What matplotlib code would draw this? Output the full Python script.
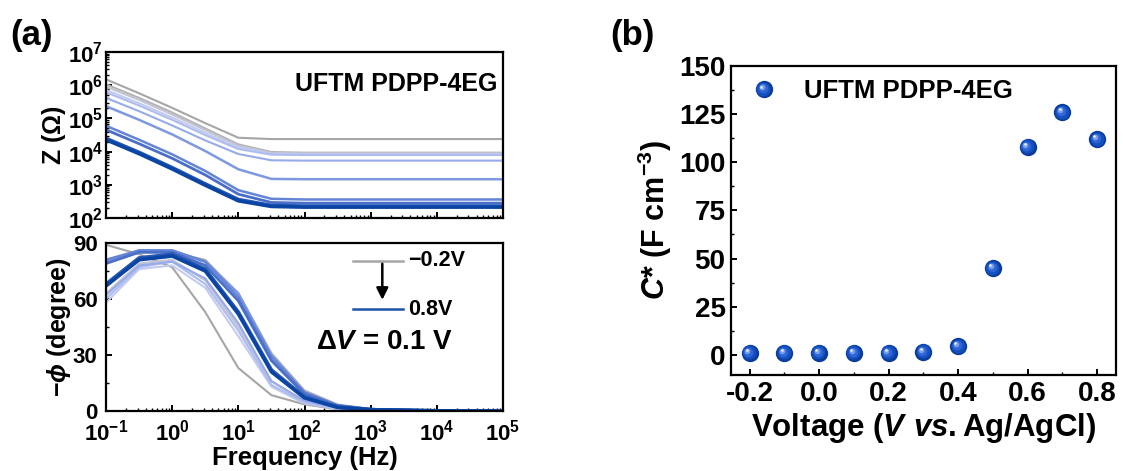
import numpy as np
import matplotlib
matplotlib.use("Agg")
import matplotlib.pyplot as plt
from matplotlib.ticker import FuncFormatter, LogLocator, MultipleLocator, NullFormatter
from matplotlib.transforms import offset_copy
from matplotlib.legend_handler import HandlerBase
from matplotlib.lines import Line2D

plt.rcParams.update({
    "font.family": ["Liberation Sans", "DejaVu Sans"],
    "font.weight": "bold",
    "axes.labelweight": "bold",
    "axes.unicode_minus": False,
    "mathtext.fontset": "custom",
    "mathtext.rm": "Liberation Sans:bold",
    "mathtext.bf": "Liberation Sans:bold",
    "mathtext.it": "Liberation Sans:italic:bold",
    "mathtext.default": "bf",
    "axes.linewidth": 1.6,
    "xtick.direction": "in",
    "ytick.direction": "in",
    "xtick.major.width": 1.4,
    "ytick.major.width": 1.4,
    "xtick.minor.width": 1.0,
    "ytick.minor.width": 1.0,
    "xtick.major.size": 4,
    "ytick.major.size": 4,
    "xtick.minor.size": 2.2,
    "ytick.minor.size": 2.2,
})

# ---- data (a): impedance / phase vs frequency, -0.2 V ... 0.8 V ----
voltages = [-0.2, -0.1, 0.0, 0.1, 0.2, 0.3, 0.4, 0.5, 0.6, 0.7, 0.8]
freq = [0.1, 0.316, 1, 3.16, 10, 31.6, 100, 316, 1e3, 1e4, 1e5]

# log10(|Z| / Ohm) at each frequency
logz_m02 = [6.18, 5.76, 5.32, 4.86, 4.42, 4.38, 4.38, 4.38, 4.38, 4.38, 4.38]
logz_m01 = [6.03, 5.62, 5.18, 4.70, 4.22, 3.99, 3.97, 3.97, 3.97, 3.97, 3.97]
logz_p00 = [5.96, 5.56, 5.12, 4.65, 4.18, 3.96, 3.95, 3.95, 3.95, 3.95, 3.95]
logz_p01 = [5.86, 5.46, 5.03, 4.57, 4.13, 3.94, 3.93, 3.93, 3.93, 3.93, 3.93]
logz_p02 = [5.79, 5.39, 4.96, 4.50, 4.08, 3.91, 3.90, 3.90, 3.90, 3.90, 3.90]
logz_p03 = [5.62, 5.22, 4.79, 4.34, 3.93, 3.74, 3.73, 3.73, 3.73, 3.73, 3.73]
logz_p04 = [5.37, 4.96, 4.52, 4.02, 3.47, 3.18, 3.17, 3.17, 3.17, 3.17, 3.17]
logz_p05 = [4.78, 4.36, 3.92, 3.42, 2.84, 2.58, 2.56, 2.56, 2.56, 2.56, 2.56]
logz_p06 = [4.66, 4.24, 3.80, 3.30, 2.72, 2.47, 2.45, 2.45, 2.45, 2.45, 2.45]
logz_p07 = [4.40, 3.98, 3.52, 3.03, 2.56, 2.38, 2.36, 2.36, 2.36, 2.36, 2.36]
logz_p08 = [4.36, 3.94, 3.48, 2.99, 2.52, 2.35, 2.33, 2.33, 2.33, 2.33, 2.33]

# -phase (degree)
ph_m02 = [89, 84, 77, 53, 23, 8.5, 3.5, 1.0, 0.3, 0, 0]
ph_m01 = [80, 85, 85, 81, 63, 31, 11, 3.5, 1.0, 0.2, 0]
ph_p00 = [63, 79, 81, 70, 45, 16, 5.0, 1.5, 0.5, 0, 0]
ph_p01 = [58, 76, 78, 66, 40, 13, 4.0, 1.2, 0.4, 0, 0]
ph_p02 = [60, 77, 80, 68, 43, 14, 4.5, 1.4, 0.4, 0, 0]
ph_p03 = [62, 78, 80, 71, 47, 16, 5.5, 1.7, 0.5, 0, 0]
ph_p04 = [80, 86, 86, 80, 63, 30, 10, 3.0, 1.0, 0.2, 0]
ph_p05 = [81, 86, 86, 80, 61, 29, 10, 3.0, 1.0, 0.2, 0]
ph_p06 = [79, 85, 85, 78, 59, 27, 9, 2.8, 0.9, 0.1, 0]
ph_p07 = [68, 82, 84, 76, 53, 22, 7.5, 2.0, 0.7, 0.1, 0]
ph_p08 = [67, 81, 83, 75, 52, 21, 7.0, 2.0, 0.7, 0.1, 0]

logz_all = [logz_m02, logz_m01, logz_p00, logz_p01, logz_p02, logz_p03,
            logz_p04, logz_p05, logz_p06, logz_p07, logz_p08]
ph_all = [ph_m02, ph_m01, ph_p00, ph_p01, ph_p02, ph_p03,
          ph_p04, ph_p05, ph_p06, ph_p07, ph_p08]

line_colors = ["#a6a6a6", "#b3b3b6", "#c2c4d2", "#c3cbef", "#adbcef", "#97abea",
               "#7e98e1", "#6484d6", "#4a6fc8", "#2557b5", "#0b45a3"]
line_widths = [1.5, 1.5, 1.5, 1.5, 1.5, 1.5, 1.8, 1.8, 2.0, 2.6, 2.6]

# ---- data (b): volumetric capacitance ----
volt_b = [-0.2, -0.1, 0.0, 0.1, 0.2, 0.3, 0.4, 0.5, 0.6, 0.7, 0.8]
cstar = [1.0, 1.0, 1.0, 1.0, 1.0, 1.5, 4.5, 45, 108, 126, 112]

fig = plt.figure(figsize=(11.23, 4.71), dpi=100)
ax_z = fig.add_axes([0.0944, 0.537, 0.3535, 0.3524])
ax_p = fig.add_axes([0.0944, 0.1274, 0.3535, 0.3567])
ax_c = fig.add_axes([0.651, 0.2038, 0.3428, 0.656])

pow_fmt = FuncFormatter(lambda v, p: r"$\mathbf{10^{%d}}$" % int(round(np.log10(v))))

# |Z|
for lz, c, lw in zip(logz_all, line_colors, line_widths):
    ax_z.plot(freq, 10 ** np.array(lz), color=c, lw=lw)
ax_z.set_xscale("log")
ax_z.set_yscale("log")
ax_z.set_xlim(0.1, 1e5)
ax_z.set_ylim(1e2, 1e7)
ax_z.yaxis.set_major_locator(LogLocator(base=10, numticks=10))
ax_z.yaxis.set_major_formatter(pow_fmt)
ax_z.xaxis.set_major_locator(LogLocator(base=10, numticks=10))
ax_z.xaxis.set_minor_locator(LogLocator(base=10, subs=np.arange(2, 10), numticks=20))
ax_z.yaxis.set_minor_locator(LogLocator(base=10, subs=np.arange(2, 10), numticks=20))
ax_z.xaxis.set_major_formatter(NullFormatter())
ax_z.xaxis.set_minor_formatter(NullFormatter())
ax_z.yaxis.set_minor_formatter(NullFormatter())
ax_z.tick_params(labelsize=16, pad=2)
ax_z.set_ylabel(r"Z ($\mathbf{\Omega}$)", fontsize=18, labelpad=0)
ax_z.text(0.987, 0.81, "UFTM PDPP-4EG", transform=ax_z.transAxes, ha="right",
          va="center", fontsize=18, fontweight="bold")

# phase
for ph, c, lw in zip(ph_all, line_colors, line_widths):
    ax_p.plot(freq, ph, color=c, lw=lw)
ax_p.set_xscale("log")
ax_p.set_xlim(0.1, 1e5)
ax_p.set_ylim(0, 90)
ax_p.xaxis.set_major_locator(LogLocator(base=10, numticks=10))
ax_p.xaxis.set_minor_locator(LogLocator(base=10, subs=np.arange(2, 10), numticks=20))
ax_p.xaxis.set_major_formatter(pow_fmt)
ax_p.xaxis.set_minor_formatter(NullFormatter())
ax_p.yaxis.set_major_locator(MultipleLocator(30))
ax_p.yaxis.set_minor_locator(MultipleLocator(15))
ax_p.tick_params(axis="y", labelsize=16, pad=6)
ax_p.tick_params(axis="x", labelsize=16, pad=6)
ax_p.set_ylabel(r"$-\mathit{\phi}$ (degree)", fontsize=18, labelpad=0)
ax_p.set_xlabel("Frequency (Hz)", fontsize=18.5, labelpad=0.5)

# voltage-direction key
ax_p.add_line(Line2D([0.623, 0.749], [0.895, 0.895], transform=ax_p.transAxes,
                     color=line_colors[0], lw=1.8))
ax_p.add_line(Line2D([0.623, 0.749], [0.605, 0.605], transform=ax_p.transAxes,
                     color="#1f52ac", lw=1.8))
ax_p.annotate("", xy=(0.696, 0.645), xytext=(0.696, 0.893), xycoords="axes fraction",
              arrowprops=dict(arrowstyle="-|>,head_width=0.35,head_length=0.7",
                              color="black", lw=1.8))
ax_p.text(0.762, 0.895, "\u22120.2V", transform=ax_p.transAxes, ha="left", va="center",
          fontsize=15.5)
ax_p.text(0.762, 0.605, "0.8V", transform=ax_p.transAxes, ha="left", va="center",
          fontsize=15.5)
ax_p.text(0.53, 0.41, r"$\mathbf{\Delta}\mathit{V}$ = 0.1 V", transform=ax_p.transAxes,
          ha="left", va="center", fontsize=20)

# (b) spheres
sphere_layers = [  # (size fraction, color, dx, dy) in points
    (1.00, "#0a3c9c", 0.0, 0.0),
    (0.80, "#1450bf", -0.4, 0.4),
    (0.55, "#2f68d6", -0.9, 0.9),
    (0.32, "#7c9ee8", -1.6, 1.6),
    (0.15, "#e8eefc", -2.0, 2.0),
]
msize = 12.5
for frac, col, dx, dy in sphere_layers:
    tr = offset_copy(ax_c.transData, fig=fig, x=dx, y=dy, units="points")
    ax_c.plot(volt_b, cstar, ls="none", marker="o", ms=msize * frac, color=col,
              mec="none", transform=tr, zorder=3)


class SphereHandler(HandlerBase):
    def create_artists(self, legend, orig_handle, xdescent, ydescent, width, height,
                       fontsize, trans):
        xc = width / 2 - xdescent
        yc = height / 2 - ydescent
        arts = []
        for frac, col, dx, dy in sphere_layers:
            ln = Line2D([xc + dx], [yc + dy], ls="none", marker="o", ms=msize * frac,
                        color=col, mec="none")
            ln.set_transform(trans)
            arts.append(ln)
        return arts


sphere_handle = Line2D([], [], ls="none", marker="o")
ax_c.legend([sphere_handle], ["UFTM PDPP-4EG"], handler_map={Line2D: SphereHandler()},
            loc="upper left", frameon=False, fontsize=18.5, handlelength=1.0,
            handletextpad=1.05, borderaxespad=0.3, bbox_to_anchor=(0.005, 1.015))

ax_c.set_xlim(-0.253, 0.854)
ax_c.set_ylim(-10.5, 150)
ax_c.xaxis.set_major_locator(MultipleLocator(0.2))
ax_c.xaxis.set_minor_locator(MultipleLocator(0.1))
ax_c.yaxis.set_major_locator(MultipleLocator(25))
ax_c.yaxis.set_minor_locator(MultipleLocator(12.5))
ax_c.xaxis.set_major_formatter(FuncFormatter(lambda v, p: "%.1f" % v if abs(v) > 1e-9 else "0.0"))
ax_c.tick_params(labelsize=20, pad=4)
ax_c.set_ylabel(r"$\mathit{C}$* (F cm$^{\mathbf{-3}}$)", fontsize=22, labelpad=4)
ax_c.set_xlabel(r"Voltage ($\mathit{V\ vs.}$Ag/AgCl)", fontsize=22.5, labelpad=3)

fig.text(0.009, 0.925, "(a)", fontsize=25, fontweight="bold", va="center")
fig.text(0.543, 0.925, "(b)", fontsize=25, fontweight="bold", va="center")

fig.savefig("out.png", dpi=100)
